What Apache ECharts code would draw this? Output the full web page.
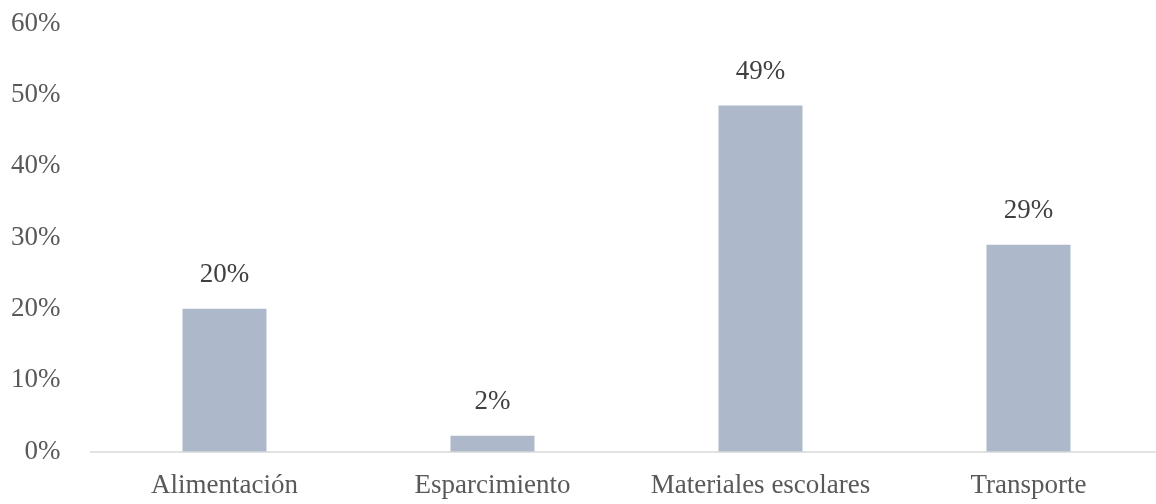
<!DOCTYPE html>
<html>
<head>
<meta charset="utf-8">
<script src="https://cdn.jsdelivr.net/npm/echarts@6/dist/echarts.min.js"></script>
<style>
  html, body { margin: 0; padding: 0; background: #fff; overflow: hidden; width: 1156px; height: 504px; }
  #chart { width: 1163px; height: 504px; }
</style>
</head>
<body>
<div id="chart"></div>
<script>
const categories = ['Alimentación', 'Esparcimiento', 'Materiales escolares', 'Transporte'];
const values = [20, 2.2, 48.5, 29];
const yTicks = { min: 0, max: 60, interval: 10 };

const chart = echarts.init(document.getElementById('chart'));
const font = '"Liberation Serif", "Times New Roman", serif';
chart.setOption({
  animation: false,
  backgroundColor: '#ffffff',
  grid: { left: 90.5, top: 23.5, height: 428, width: 1072, containLabel: false },
  xAxis: {
    type: 'category',
    data: categories,
    axisLine: { show: true, lineStyle: { color: '#d9d9d9', width: 1.5 } },
    axisTick: { show: false },
    axisLabel: { interval: 0, color: '#595959', fontFamily: font, fontSize: 27, margin: 21 }
  },
  yAxis: {
    type: 'value',
    min: yTicks.min,
    max: yTicks.max,
    interval: yTicks.interval,
    axisLine: { show: false },
    axisTick: { show: false },
    splitLine: { show: false },
    axisLabel: { color: '#595959', fontFamily: font, fontSize: 27, margin: 30, formatter: '{value}%' }
  },
  series: [{
    type: 'bar',
    data: values,
    barWidth: 84,
    itemStyle: { color: '#adb9ca' },
    label: {
      show: true,
      position: 'top',
      distance: 20,
      color: '#404040',
      fontFamily: font,
      fontSize: 27,
      formatter: p => Math.round(p.value) + '%'
    }
  }]
});
</script>
</body>
</html>
